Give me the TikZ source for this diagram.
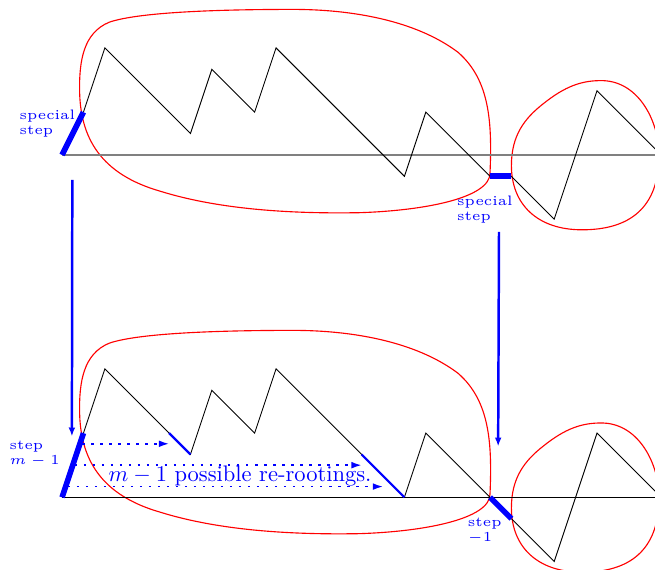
\documentclass[tikz,border=0pt]{standalone}
\usetikzlibrary{arrows.meta}

\tikzset{every picture/.style={line width=0.4pt}}
\tikzset{
  special/.style={blue, line width=2.5pt},
  reroot/.style={blue, line width=1pt},
  blob/.style={red, line width=0.5pt},
  flow/.style={blue, line width=1.1pt, -{Latex[length=4pt,width=3pt]}},
  slide/.style={blue, line width=0.7pt, dash pattern={on 1.1pt off 2.9pt}, -{Latex[length=4.5pt,width=3pt]}},
  lbl/.style={blue, inner sep=0pt, align=left, scale=1.22, font=\fontsize{5}{5.45}\selectfont},
}

\begin{document}
\begin{tikzpicture}[x=0.334cm,y=0.334cm]
%frame of the picture
\useasboundingbox (-2.9,-19.39) rectangle (27.71,7.24);
\clip (-2.9,-19.39) rectangle (27.71,7.24);

%walk before (upper) and after (lower) re-rooting
\foreach \x/\y [count=\i from 0] in {0/0,1/2,2/5,6/1,7/4,9/2,10/5,16/-1,17/2,20/-1,21/-1,23/-3,25/3,28/0}
  \coordinate (u\i) at (\x,\y);
\foreach \x/\y [count=\i from 0] in {0/0,1/3,2/6,6/2,7/5,9/3,10/6,16/0,17/3,20/0,21/-1,23/-3,25/3,28/0}
  \coordinate (l\i) at (\x,{\y-16});

%Red loops
\foreach \dy in {0,-15}
  \draw [blob, shift={(0,\dy)}] (20,-0.85) .. controls (20.1,1.5) and (20,3.5) .. (18.5,4.8)
    .. controls (16.5,6.3) and (13.5,6.8) .. (10.8,6.8)
    .. controls (7,6.8) and (3.5,6.65) .. (2.2,6.2)
    .. controls (1,5.7) and (0.8,4.4) .. (0.82,3)
    .. controls (0.85,0.8) and (1.8,-0.9) .. (4.6,-1.7)
    .. controls (7.5,-2.6) and (11,-2.75) .. (13.9,-2.7)
    .. controls (17,-2.6) and (20,-2) .. cycle;
\foreach \dy in {0,-16}
  \draw [blob, shift={(0,\dy)}] (21,-0.5) .. controls (21,0.9) and (21.6,1.7) .. (22.5,2.4)
    .. controls (23.5,3.2) and (24.3,3.5) .. (25.3,3.47)
    .. controls (27,3.4) and (27.9,1.5) .. (27.9,0)
    .. controls (27.9,-2.5) and (26.5,-3.5) .. (24.3,-3.5)
    .. controls (22.2,-3.5) and (21,-2.3) .. cycle;

%Axes
\draw [gray, line width=0.7pt] (u0) -- (u13);
\draw (l0) -- (l13);

%Upper walk
\draw (u1) -- (u2) -- (u3) -- (u4) -- (u5) -- (u6) -- (u7) -- (u8) -- (u9);
\draw (u10) -- (u11) -- (u12) -- (u13);
\draw [special] (u0) -- (u1);
\draw [special] (u9) -- (u10);

%Lower walk
\draw (l1) -- (l2) -- (l3) -- (l4) -- (l5) -- (l6) -- (l7) -- (l8) -- (l9);
\draw (l10) -- (l11) -- (l12) -- (l13);
\draw [special] (l0) -- (l1);
\draw [special] (l9) -- (l10);

%Possible new roots
\coordinate (r1) at (5,-13);
\coordinate (r2) at (14,-14);
\draw [reroot] (r1) -- (l3);
\draw [reroot] (r2) -- (l7);

%Dotted arrows
\coordinate (s1) at (0.95,-13.5);
\coordinate (e1) at (5,-13.5);
\coordinate (s2) at (0.6,-14.5);
\coordinate (e2) at (14,-14.5);
\coordinate (s3) at (0.27,-15.5);
\coordinate (e3) at (15,-15.5);
\draw [slide] (s1) -- (e1);
\draw [slide] (s2) -- (e2);
\draw [slide] (s3) -- (e3);

%Vertical arrows
\coordinate (v1) at (0.48,-1.17);
\coordinate (v2) at (0.46,-13.16);
\coordinate (w1) at (20.42,-3.6);
\coordinate (w2) at (20.38,-13.63);
\draw [flow] (v1) -- (v2);
\draw [flow] (w1) -- (w2);

% Text Node
\node [lbl, anchor=base west] (stepA) at (-2.01,0.97) {special\\step};
% Text Node
\node [lbl, anchor=base west] (stepB) at (18.44,-3.08) {special\\step};
% Text Node
\node [lbl, anchor=base west] (stepC) at (-2.48,-14.45) {step\\$m-1$};
% Text Node
\node [lbl, anchor=base west] (stepD) at (18.94,-18.07) {step\\$-1$};
% Text Node
\node [blue, anchor=base west, inner sep=0pt] (note) at (2.15,-15.28) {$m-1$ possible re-rootings.};

\end{tikzpicture}
\end{document}
